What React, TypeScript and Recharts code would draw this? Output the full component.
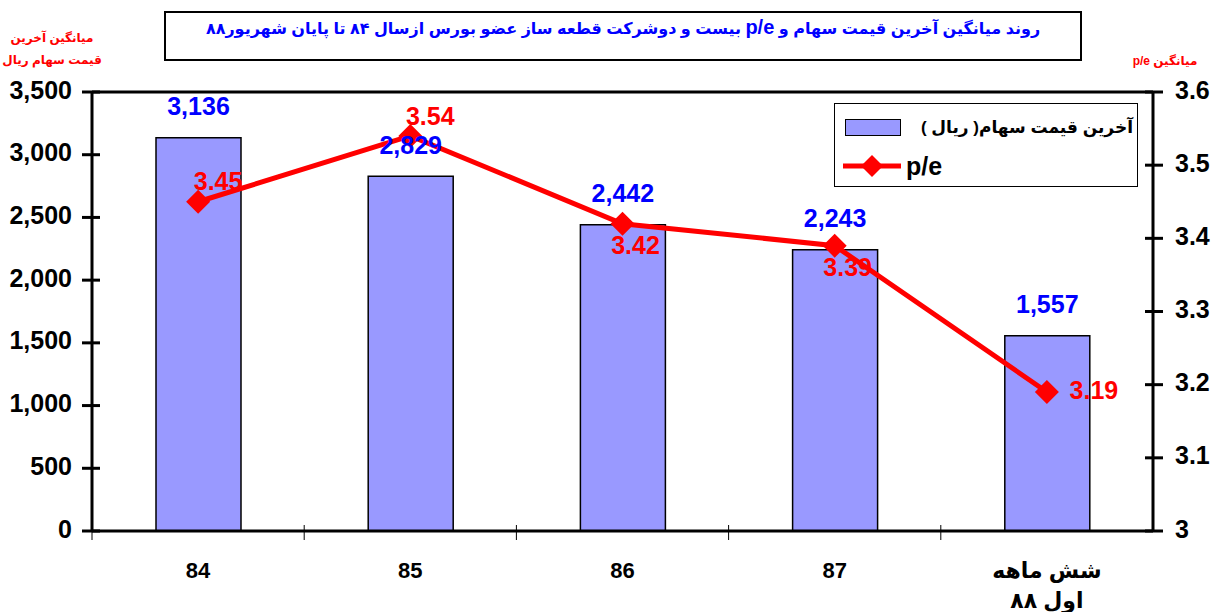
import React from 'react';
import {
	ComposedChart,
	Bar,
	Line,
	XAxis,
	YAxis,
	LabelList,
	ReferenceLine
} from 'recharts';

const categories = ['84', '85', '86', '87', 'شش ماهه\nاول ۸۸'];
const lastPrice = [3136, 2829, 2442, 2243, 1557];
const peValues = [3.45, 3.54, 3.42, 3.39, 3.19];
const priceTicks = [0, 500, 1000, 1500, 2000, 2500, 3000, 3500];
const peTicks = [3, 3.1, 3.2, 3.3, 3.4, 3.5, 3.6];

// where excel put each p/e label
const peLabelSide = ['top', 'top', 'bottom', 'bottom', 'right'];

const data = categories.map((name, i) => ({
	name,
	price: lastPrice[i],
	pe: peValues[i]
}));

const FONT = '"Liberation Sans", Arial, "DejaVu Sans", sans-serif';
const BLUE = '#0000FF';
const RED = '#FF0000';

const LeftTick = (props: any) => {
	const { x, y, payload } = props;
	return (
		<g>
			<line x1={x - 10} x2={x + 8} y1={y} y2={y} stroke='#000' strokeWidth={3} />
			<text
				x={x - 20}
				y={y}
				textAnchor='end'
				dominantBaseline='middle'
				fontFamily={FONT}
				fontWeight='bold'
				fontSize={25}
				fill='#000'
			>
				{payload.value.toLocaleString('en-US')}
			</text>
		</g>
	);
};

const RightTick = (props: any) => {
	const { x, y, payload } = props;
	const v = payload.value;
	return (
		<g>
			<line x1={x - 8} x2={x + 10} y1={y} y2={y} stroke='#000' strokeWidth={3} />
			<text
				x={x + 22}
				y={y}
				textAnchor='start'
				dominantBaseline='middle'
				fontFamily={FONT}
				fontWeight='bold'
				fontSize={25}
				fill='#000'
			>
				{v === 3 ? '3' : v.toFixed(1)}
			</text>
		</g>
	);
};

const BottomTick = (props: any) => {
	const { x, y, payload, width, visibleTicksCount } = props;
	const band = width / visibleTicksCount;
	const lines = String(payload.value).split('\n');
	return (
		<g>
			<line x1={x - band / 2} x2={x - band / 2} y1={y - 6} y2={y + 9} stroke='#000' strokeWidth={1} />
			{lines.map((l, i) => (
				<text
					key={i}
					x={x}
					y={y + 41 + i * 30}
					textAnchor='middle'
					dominantBaseline='middle'
					fontFamily={FONT}
					fontWeight='bold'
					fontSize={22}
					fill='#000'
				>
					{l}
				</text>
			))}
		</g>
	);
};

const Diamond = (props: any) => {
	const { cx, cy } = props;
	if (cx == null || cy == null) return null;
	const r = 12;
	return (
		<path
			d={`M${cx},${cy - r} L${cx + r},${cy} L${cx},${cy + r} L${cx - r},${cy} Z`}
			fill={RED}
		/>
	);
};

const PriceLabel = (props: any) => {
	const { x, y, width, value } = props;
	return (
		<text
			x={x + width / 2}
			y={y - 29}
			textAnchor='middle'
			dominantBaseline='middle'
			fontFamily={FONT}
			fontWeight='bold'
			fontSize={25}
			fill={BLUE}
		>
			{value.toLocaleString('en-US')}
		</text>
	);
};

const PeLabel = (props: any) => {
	const { x, y, value, index } = props;
	const side = peLabelSide[index];
	let dx = 20;
	let dy = -18;
	if (side === 'bottom') {
		dx = 13;
		dy = 24;
	} else if (side === 'right') {
		dx = 47;
		dy = 0;
	}
	return (
		<text
			x={x + dx}
			y={y + dy}
			textAnchor='middle'
			dominantBaseline='middle'
			fontFamily={FONT}
			fontWeight='bold'
			fontSize={25}
			fill={RED}
		>
			{value.toFixed(2)}
		</text>
	);
};

const LegendBox = () => (
	<div
		style={{
			position: 'absolute',
			left: 834,
			top: 103,
			width: 302,
			height: 82,
			border: '1px solid #000',
			background: '#fff',
			fontFamily: FONT,
			fontWeight: 'bold'
		}}
	>
		<div
			style={{
				position: 'absolute',
				left: 10,
				top: 15,
				width: 56,
				height: 17,
				background: '#9999FF',
				border: '1.5px solid #000',
				boxSizing: 'border-box'
			}}
		/>
		<div
			dir='rtl'
			style={{ position: 'absolute', right: 4, top: 12, fontSize: 17, lineHeight: '24px', color: '#000', whiteSpace: 'nowrap' }}
		>
			آخرین قیمت سهام( ریال )
		</div>
		<svg style={{ position: 'absolute', left: 6, top: 49 }} width={62} height={26}>
			<line x1={2} x2={60} y1={13} y2={13} stroke={RED} strokeWidth={5} />
			<path d='M31,2 L42,13 L31,24 L20,13 Z' fill={RED} />
		</svg>
		<div style={{ position: 'absolute', left: 71, top: 48, fontSize: 25, lineHeight: '28px', color: '#000' }}>
			p/e
		</div>
	</div>
);

export default function App() {
	return (
		<div style={{ position: 'absolute', left: 0, top: 0, width: 1214, height: 612, background: '#fff' }}>
			<div
				dir='rtl'
				style={{
					position: 'absolute',
					left: 164,
					top: 11,
					width: 914,
					height: 46,
					border: '2px solid #000',
					textAlign: 'center',
					fontFamily: FONT,
					fontWeight: 'bold',
					fontSize: 16,
					lineHeight: '28px',
					color: BLUE
				}}
			>
				روند میانگین آخرین قیمت سهام و <span style={{ fontSize: 20 }}>p/e</span>  بیست و دوشرکت قطعه ساز عضو بورس ازسال ۸۴ تا پایان شهریور۸۸
			</div>
			<div
				dir='rtl'
				style={{
					position: 'absolute',
					left: 2,
					top: 27,
					width: 100,
					textAlign: 'center',
					fontFamily: FONT,
					fontWeight: 'bold',
					fontSize: 12,
					lineHeight: '22px',
					color: RED
				}}
			>
				<div>میانگین آخرین</div>
				<div>قیمت سهام ریال</div>
			</div>
			<div
				dir='rtl'
				style={{
					position: 'absolute',
					left: 1125,
					top: 51,
					width: 80,
					textAlign: 'center',
					fontFamily: FONT,
					fontWeight: 'bold',
					fontSize: 12,
					lineHeight: '20px',
					color: RED
				}}
			>
				میانگین p/e
			</div>
			<div style={{ position: 'absolute', left: 0, top: 0 }}>
				<ComposedChart
					width={1214}
					height={612}
					data={data}
					margin={{ top: 92, right: 0, left: 0, bottom: 0 }}
					barCategoryGap='30%'
				>
					<XAxis
						dataKey='name'
						height={81}
						axisLine={{ stroke: '#000', strokeWidth: 3 }}
						tickLine={false}
						tickSize={0}
						tickMargin={0}
						tick={<BottomTick />}
						interval={0}
					/>
					<YAxis
						yAxisId='left'
						width={92}
						domain={[0, 3500]}
						ticks={priceTicks}
						axisLine={{ stroke: '#000', strokeWidth: 3 }}
						tickLine={false}
						tickSize={0}
						tickMargin={0}
						tick={<LeftTick />}
						interval={0}
					/>
					<YAxis
						yAxisId='right'
						orientation='right'
						width={61}
						domain={[3, 3.6]}
						ticks={peTicks}
						axisLine={{ stroke: '#000', strokeWidth: 3 }}
						tickLine={false}
						tickSize={0}
						tickMargin={0}
						tick={<RightTick />}
						interval={0}
					/>
					<ReferenceLine yAxisId='left' y={3500} stroke='#000' strokeWidth={3} />
					<Bar
						yAxisId='left'
						dataKey='price'
						barSize={85}
						fill='#9999FF'
						stroke='#000'
						strokeWidth={1.5}
						isAnimationActive={false}
					>
						<LabelList dataKey='price' content={<PriceLabel />} />
					</Bar>
					<Line
						yAxisId='right'
						dataKey='pe'
						stroke={RED}
						strokeWidth={5}
						dot={<Diamond />}
						activeDot={false}
						isAnimationActive={false}
					>
						<LabelList dataKey='pe' content={<PeLabel />} />
					</Line>
				</ComposedChart>
			</div>
			<LegendBox />
		</div>
	);
}
